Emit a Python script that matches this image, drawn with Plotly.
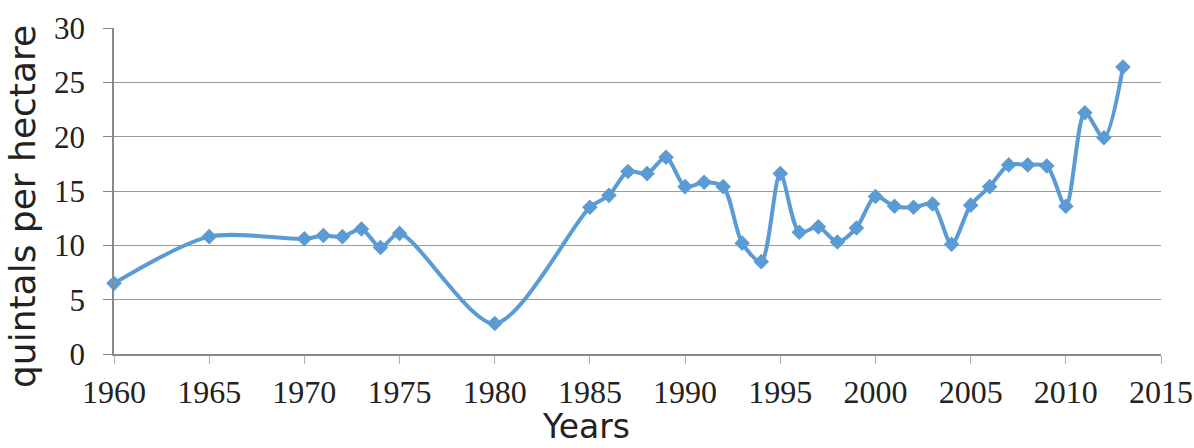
import plotly.graph_objects as go

years = [1960, 1965, 1970, 1971, 1972, 1973, 1974, 1975, 1980, 1985, 1986, 1987,
         1988, 1989, 1990, 1991, 1992, 1993, 1994, 1995, 1996, 1997, 1998, 1999,
         2000, 2001, 2002, 2003, 2004, 2005, 2006, 2007, 2008, 2009, 2010, 2011,
         2012, 2013]
yield_qha = [6.5, 10.8, 10.6, 10.9, 10.8, 11.5, 9.8, 11.1, 2.8, 13.5, 14.6, 16.8,
             16.6, 18.1, 15.4, 15.8, 15.4, 10.2, 8.5, 16.6, 11.2, 11.7, 10.3, 11.6,
             14.5, 13.6, 13.5, 13.8, 10.1, 13.7, 15.4, 17.4, 17.4, 17.3, 13.6, 22.2,
             19.9, 26.4]
x_ticks = [1960, 1965, 1970, 1975, 1980, 1985, 1990, 1995, 2000, 2005, 2010, 2015]
y_ticks = [0, 5, 10, 15, 20, 25, 30]

fig = go.Figure()
fig.add_trace(go.Scatter(
    x=years, y=yield_qha, mode="lines+markers",
    line=dict(color="#5B9BD5", width=4, shape="spline", smoothing=0.8),
    marker=dict(symbol="diamond", size=12, color="#5B9BD5"),
    showlegend=False, cliponaxis=False,
))

L, R, T, B = 114, 33, 28, 94
fig.update_layout(
    width=1194, height=448,
    margin=dict(l=L, r=R, t=T, b=B, pad=0),
    paper_bgcolor="white", plot_bgcolor="white",
    xaxis=dict(
        range=[1960, 2015], tickvals=x_ticks, ticktext=[str(v) for v in x_ticks],
        showgrid=False, zeroline=False, automargin=False,
        showline=True, linecolor="#8a8a8a", linewidth=1.5,
        ticks="outside", ticklen=8, tickcolor="#b0b0b0", tickwidth=1,
        tickfont=dict(family="Liberation Serif", size=32, color="#222"),
        ticklabelstandoff=1, ticklabeloverflow="allow",
    ),
    yaxis=dict(
        range=[0, 30], tickvals=y_ticks,
        showgrid=True, gridcolor="#9a9a9a", gridwidth=1.3,
        zeroline=False, automargin=False,
        showline=True, linecolor="#8a8a8a", linewidth=1.5,
        ticks="outside", ticklen=9, tickcolor="#8a8a8a", tickwidth=1.3,
        tickfont=dict(family="Liberation Serif", size=31, color="#222"),
        ticklabelstandoff=12, ticklabeloverflow="allow",
    ),
    annotations=[
        dict(text="quintals per hectare", textangle=-90,
             xref="paper", yref="paper",
             x=(23 - L) / (1194 - L - R), y=(354 - 207) / (448 - T - B),
             xanchor="center", yanchor="middle", showarrow=False,
             font=dict(family="DejaVu Sans", size=36, color="#222")),
        dict(text="Years", xref="paper", yref="paper",
             x=(586 - L) / (1194 - L - R), y=-(448 - 354) / (448 - T - B),
             xanchor="center", yanchor="bottom", showarrow=False,
             font=dict(family="DejaVu Sans", size=33, color="#222")),
    ],
)

fig.write_html("out.html", config={"displayModeBar": False},
               post_script="document.body.style.margin='0';document.body.style.overflow='hidden';")
